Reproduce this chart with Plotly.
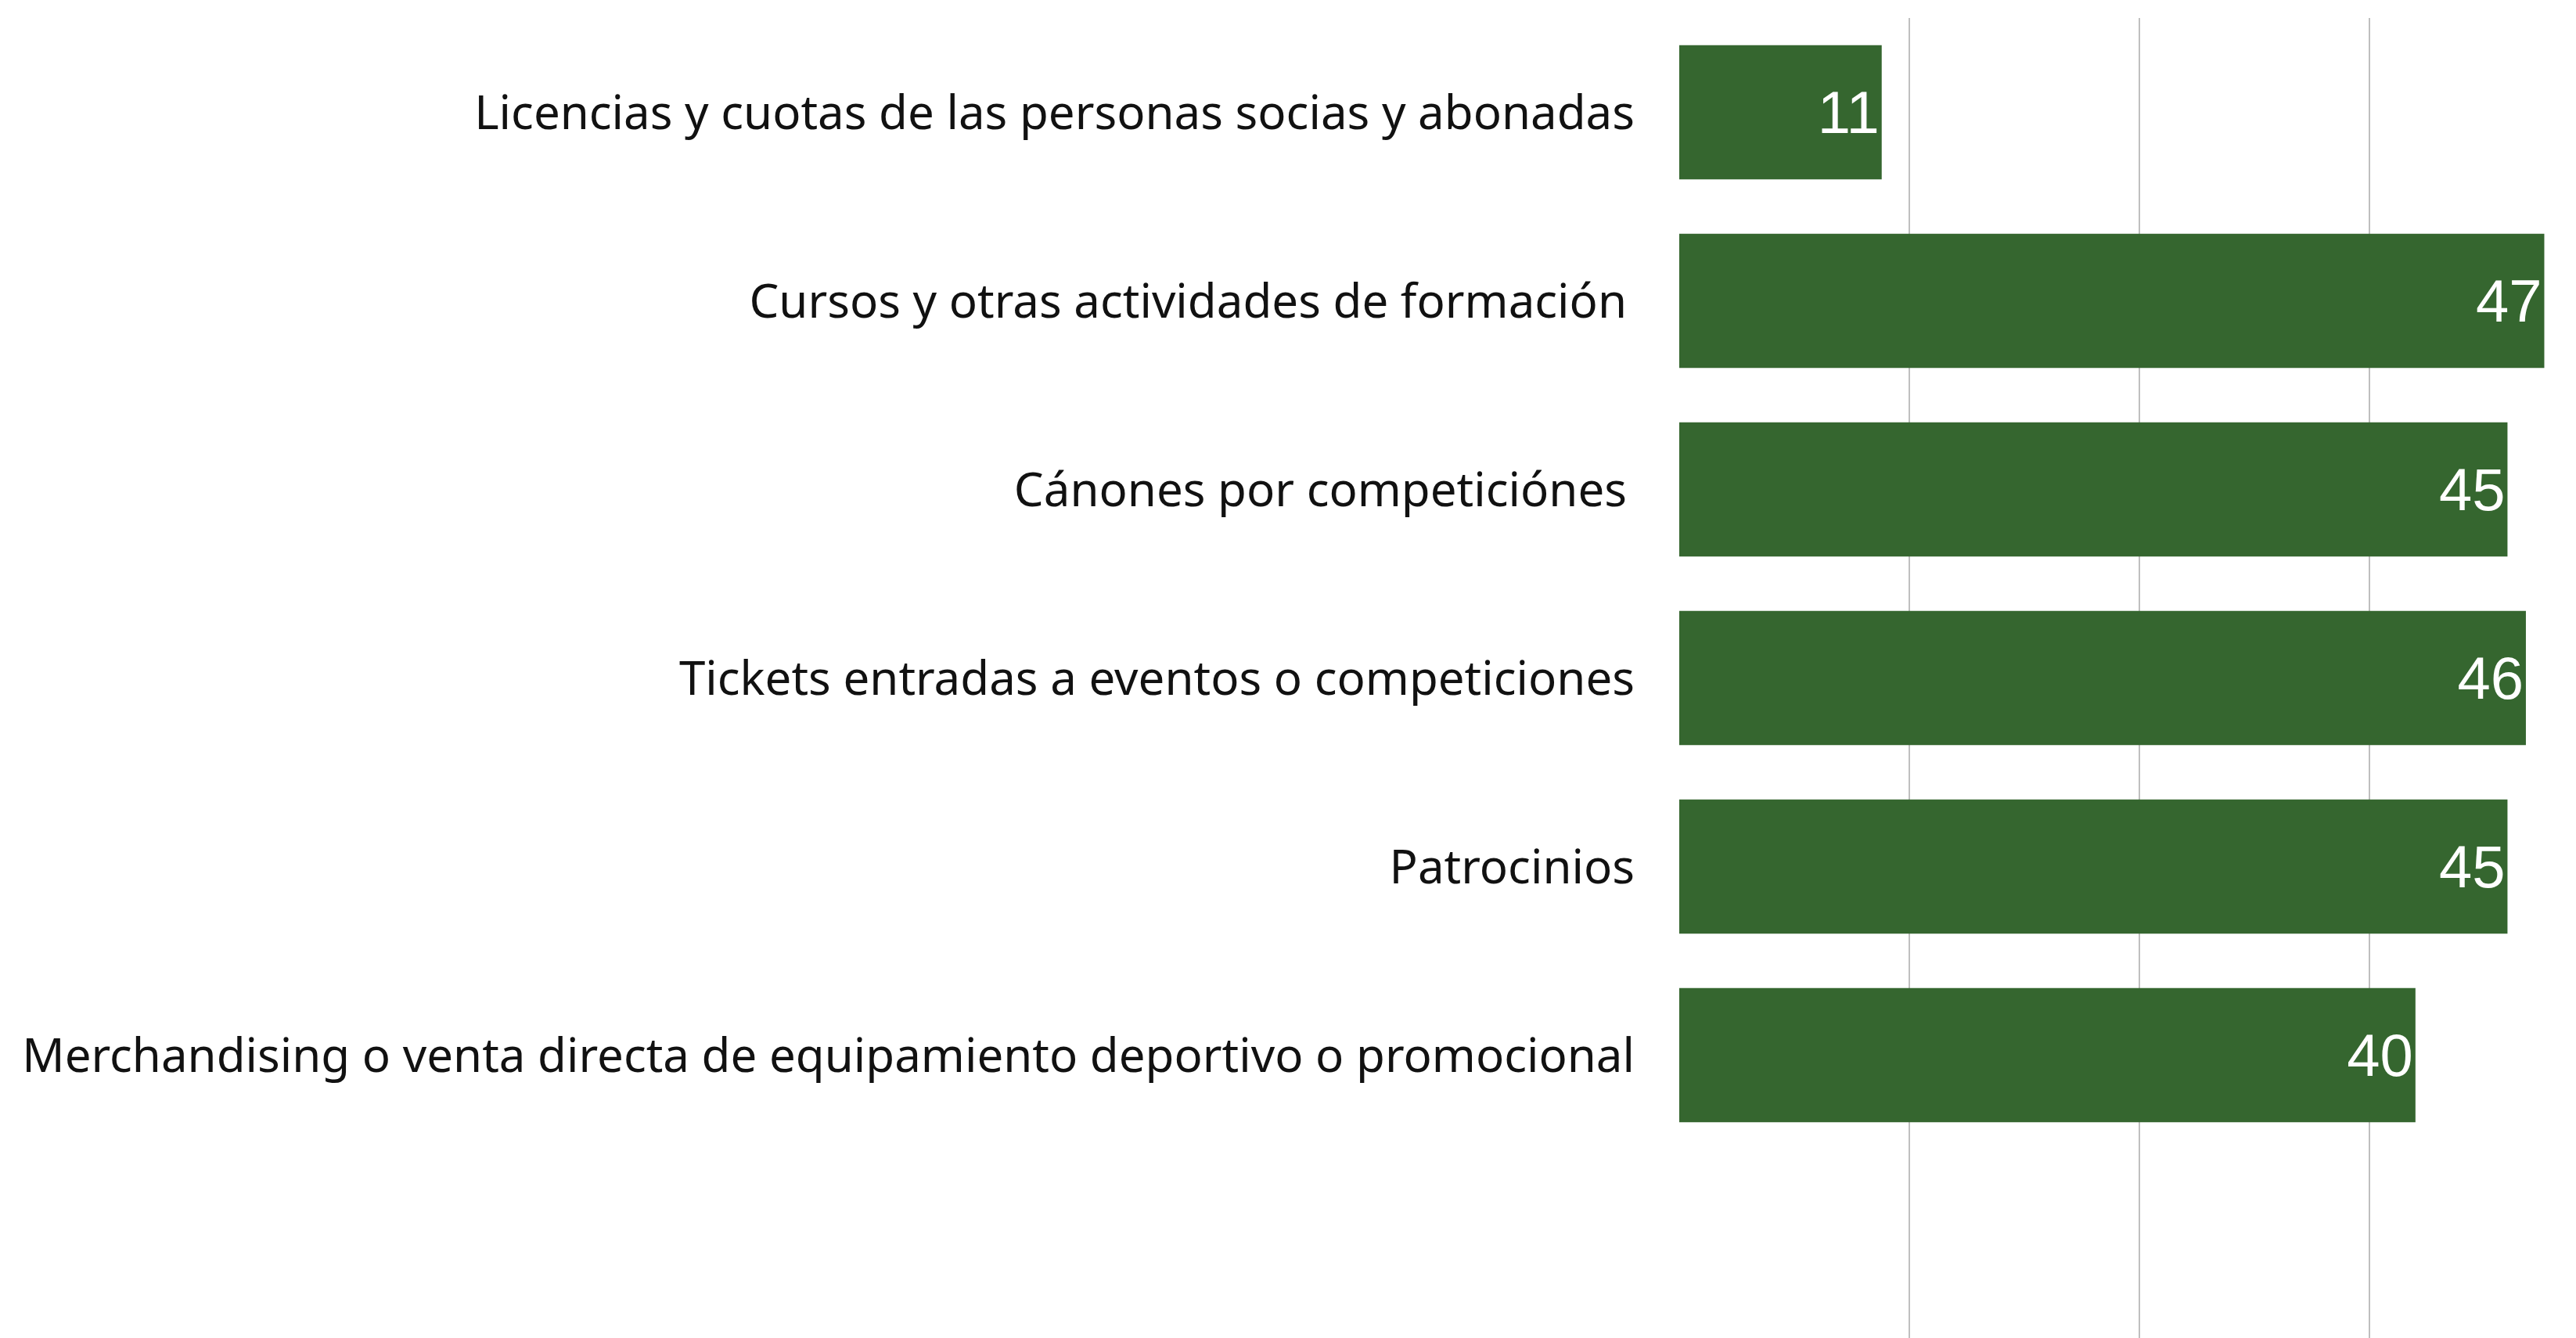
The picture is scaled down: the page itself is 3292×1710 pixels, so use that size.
import plotly.graph_objects as go

categories = [
    "Licencias y cuotas de las personas socias y abonadas",
    "Cursos y otras actividades de formación\u2006",
    "Cánones por competiciónes\u2006",
    "Tickets entradas a eventos o competiciones",
    "Patrocinios",
    "Merchandising o venta directa de equipamiento deportivo o promocional",
]
values = [11, 47, 45, 46, 45, 40]
grid_ticks = [12.5, 25, 37.5]

fig = go.Figure(
    go.Bar(
        x=values,
        y=categories,
        orientation="h",
        marker=dict(color="#35662F", line=dict(width=0)),
        text=values,
        textposition="inside",
        insidetextanchor="end",
        textangle=0,
        textfont=dict(family="Liberation Sans, Arial, sans-serif", size=76, color="white"),
        hoverinfo="skip",
    )
)

# page body has an 8px margin, so the figure is offset by 8px
fig.update_layout(
    width=3284,
    height=1702,
    margin=dict(l=2138, r=17, t=15, b=0, autoexpand=False),
    plot_bgcolor="white",
    paper_bgcolor="white",
    bargap=0.288,
    showlegend=False,
)
fig.update_xaxes(
    range=[0, 48],
    tickvals=grid_ticks,
    showticklabels=False,
    showgrid=True,
    gridcolor="#BFBFBF",
    gridwidth=2,
    zeroline=False,
    showline=False,
    ticks="",
    fixedrange=True,
)
fig.update_yaxes(
    type="category",
    categoryorder="array",
    categoryarray=categories,
    range=[6.5, -0.5],
    showgrid=False,
    zeroline=False,
    showline=False,
    ticks="",
    ticklabelstandoff=56,
    tickfont=dict(family="Noto Sans, sans-serif", size=60, color="#111111"),
    automargin=False,
    fixedrange=True,
)

fig.write_html("out.html")
